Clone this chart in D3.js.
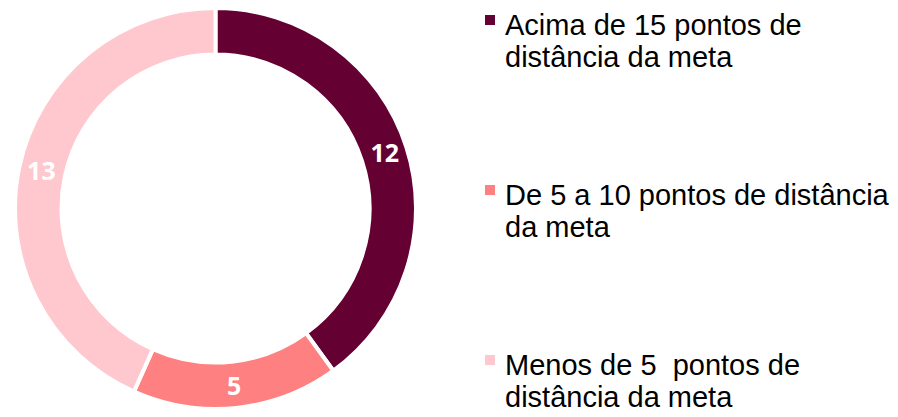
<!DOCTYPE html>
<html>
<head>
<meta charset="utf-8">
<script src="https://cdn.jsdelivr.net/npm/d3@7"></script>
<style>
  body { margin: 0; background: #fff; }
  svg { display: block; }
  .legend text { font-family: "Liberation Sans", Arial, sans-serif; font-size: 29px; fill: #000; white-space: pre; }
  .slice-label { font-family: "Open Sans", "DejaVu Sans", sans-serif; font-weight: bold; font-size: 25px; fill: #fff; }
</style>
</head>
<body>
<div id="chart"></div>
<script>
// chart data
const categories = [
  "Acima de 15 pontos de\ndistância da meta",
  "De 5 a 10 pontos de distância\nda meta",
  "Menos de 5  pontos de\ndistância da meta"
];
const values = [12, 5, 13];
const colors = ["#650033", "#ff8080", "#ffc7ce"];

const width = 898, height = 417;
const cx = 215.5, cy = 208.5;
const outerR = 200.5, innerR = 154;

const svg = d3.select("#chart").append("svg")
    .attr("width", width)
    .attr("height", height);

const data = categories.map((c, i) => ({name: c, value: values[i], color: colors[i]}));

const pie = d3.pie().value(d => d.value).sort(null);
const arc = d3.arc().innerRadius(innerR).outerRadius(outerR);
const labelArc = d3.arc().innerRadius(178).outerRadius(178);

const g = svg.append("g").attr("transform", "translate(" + cx + "," + cy + ")");

const arcs = pie(data);

g.selectAll("path")
    .data(arcs)
    .enter()
    .append("path")
    .attr("d", arc)
    .attr("fill", d => d.data.color)
    .attr("stroke", "#fff")
    .attr("stroke-width", 4);

g.selectAll("text")
    .data(arcs)
    .enter()
    .append("text")
    .attr("class", "slice-label")
    .attr("transform", d => "translate(" + labelArc.centroid(d) + ")")
    .attr("text-anchor", "middle")
    .attr("dy", "0.36em")
    .text(d => d.data.value);

// legend
const legendY = d3.scaleOrdinal().domain(categories).range([35, 205, 375]);
const legend = svg.append("g").attr("class", "legend");

const items = legend.selectAll("g")
    .data(data)
    .enter()
    .append("g")
    .attr("transform", d => "translate(0," + legendY(d.name) + ")");

items.append("rect")
    .attr("x", 485)
    .attr("y", -20)
    .attr("width", 10)
    .attr("height", 10)
    .attr("fill", d => d.color);

items.append("text")
    .attr("x", 505)
    .each(function(d) {
        let t = d3.select(this);
        d.name.split("\n").forEach((line, i) => {
            t.append("tspan")
                .attr("x", 505)
                .attr("y", i * 32)
                .text(line);
        });
    });
</script>
</body>
</html>
